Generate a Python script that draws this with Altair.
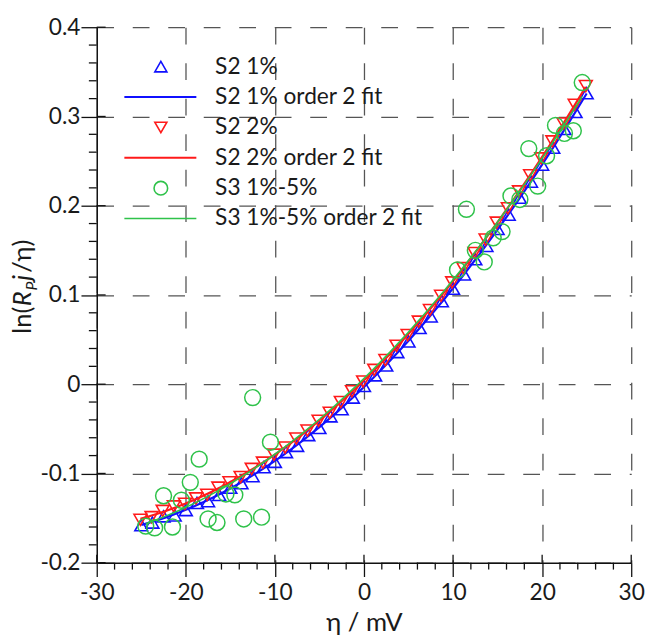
import altair as alt
import pandas as pd

# ---- data ----
s2_1_x = [-25, -23.75, -22.5, -21.25, -20, -18.75, -17.5, -16.25, -15, -13.75, -12.5, -11.25, -10,
          -8.75, -7.5, -6.25, -5, -3.75, -2.5, -1.25, 0, 1.25, 2.5, 3.75, 5, 6.25, 7.5, 8.75, 10,
          11.25, 12.5, 13.75, 15, 16.25, 17.5, 18.75, 20, 21.25, 22.5, 23.75, 25]
s2_1_y = [-0.158, -0.155, -0.148, -0.147, -0.141, -0.133, -0.131, -0.124, -0.116, -0.111, -0.103,
          -0.093, -0.087, -0.076, -0.069, -0.057, -0.049, -0.036, -0.028, -0.015, -0.002, 0.010,
          0.021, 0.036, 0.048, 0.063, 0.076, 0.093, 0.107, 0.123, 0.140, 0.155, 0.174, 0.190,
          0.209, 0.227, 0.246, 0.265, 0.286, 0.305, 0.326]

s2_2_x = [-25.1, -23.85, -22.6, -21.35, -20.1, -18.85, -17.6, -16.35, -15.1, -13.85, -12.6, -11.35,
          -10.1, -8.85, -7.6, -6.35, -5.1, -3.85, -2.6, -1.35, -0.1, 1.15, 2.4, 3.65, 4.9, 6.15,
          7.4, 8.65, 9.9, 11.15, 12.4, 13.65, 14.9, 16.15, 17.4, 18.65, 19.9, 21.15, 22.4, 23.65, 24.9]
s2_2_y = [-0.152, -0.149, -0.142, -0.137, -0.134, -0.128, -0.124, -0.116, -0.110, -0.104, -0.095,
          -0.088, -0.079, -0.071, -0.061, -0.052, -0.041, -0.032, -0.020, -0.008, 0.003, 0.016,
          0.027, 0.043, 0.055, 0.070, 0.083, 0.099, 0.114, 0.130, 0.147, 0.162, 0.181, 0.197,
          0.216, 0.234, 0.253, 0.272, 0.292, 0.313, 0.334]

s3_x = [-24.5, -23.5, -22.5, -21.5, -20.5, -19.5, -18.5, -17.5, -16.5, -15.5, -14.5, -13.5, -12.5,
        -11.5, -10.5, 10.5, 11.5, 12.5, 13.5, 14.5, 15.5, 16.5, 17.5, 18.5, 19.5, 20.5, 21.5, 22.5,
        23.5, 24.5]
s3_y = [-0.159, -0.161, -0.125, -0.160, -0.130, -0.110, -0.084, -0.151, -0.155, -0.123, -0.124,
        -0.151, -0.015, -0.149, -0.065, 0.128, 0.196, 0.150, 0.137, 0.164, 0.171, 0.211, 0.207,
        0.264, 0.222, 0.256, 0.290, 0.281, 0.284, 0.338]

x_major = [-30, -20, -10, 0, 10, 20, 30]
x_minor = [-28, -26, -24, -22, -18, -16, -14, -12, -8, -6, -4, -2, 2, 4, 6, 8, 12, 14, 16, 18, 22, 24, 26, 28]
y_major = [-0.2, -0.1, 0, 0.1, 0.2, 0.3, 0.4]
y_minor = [-0.18, -0.16, -0.14, -0.12, -0.08, -0.06, -0.04, -0.02, 0.02, 0.04, 0.06, 0.08,
           0.12, 0.14, 0.16, 0.18, 0.22, 0.24, 0.26, 0.28, 0.32, 0.34, 0.36, 0.38]

legend_labels = ["S2 1%", "S2 1% order 2 fit", "S2 2%", "S2 2% order 2 fit",
                 "S3 1%-5%", "S3 1%-5% order 2 fit"]

BLUE = "#1010ff"
RED = "#ff1a1a"
GREEN = "#2fc24a"
FONT = "Lato"
W, H = 542, 543

df1 = pd.DataFrame({"x": s2_1_x, "y": s2_1_y})
df2 = pd.DataFrame({"x": s2_2_x, "y": s2_2_y})
df3 = pd.DataFrame({"x": s3_x, "y": s3_y})

xs = alt.Scale(domain=[-30, 30], nice=False)
ys = alt.Scale(domain=[-0.2, 0.4], nice=False)

X = alt.X("x:Q", scale=xs, axis=alt.Axis(
    values=x_major, title="η / mV", grid=True, tickSize=14, labelPadding=5,
    titlePadding=6, labelFlush=False, labelExpr="replace(format(datum.value, 'd'), '−', '-')"))
Y = alt.Y("y:Q", scale=ys, axis=alt.Axis(
    values=y_major, title=None, grid=True, tickSize=16, labelPadding=1,
    labelExpr="replace(format(datum.value, '.1~f'), '−', '-')"))

TRI = 170
pts_blue = alt.Chart(df1).mark_point(shape="triangle-up", filled=False, color=BLUE,
                                     size=TRI, strokeWidth=1.6, opacity=1).encode(x=X, y=Y)
pts_red = alt.Chart(df2).mark_point(shape="triangle-down", filled=False, color=RED,
                                    size=TRI, strokeWidth=1.6, opacity=1).encode(x=X, y=Y)
pts_green = alt.Chart(df3).mark_point(shape="circle", filled=False, color=GREEN,
                                      size=260, strokeWidth=1.5, opacity=1).encode(x=X, y=Y)

def fit(df, color, width):
    return alt.Chart(df).transform_regression("x", "y", method="poly", order=2).mark_line(
        color=color, strokeWidth=width).encode(x=alt.X("x:Q", scale=xs), y=alt.Y("y:Q", scale=ys))

fit_blue = fit(df1, BLUE, 2.2)
fit_red = fit(df2, RED, 2.2)
fit_green = fit(df3, GREEN, 1.6)

# minor ticks and inner parts of major ticks
xmin_df = pd.DataFrame({"x": x_minor})
ymin_df = pd.DataFrame({"y": y_minor})
xmaj_df = pd.DataFrame({"x": x_major})
ymaj_df = pd.DataFrame({"y": y_major})
tick_x_minor = alt.Chart(xmin_df).mark_rule(color="#111", strokeWidth=1.3).encode(
    x=alt.X("x:Q", scale=xs), y=alt.value(H), y2=alt.value(H + 7))
tick_y_minor = alt.Chart(ymin_df).mark_rule(color="#111", strokeWidth=1.3).encode(
    y=alt.Y("y:Q", scale=ys), x=alt.value(-8), x2=alt.value(0))
tick_x_in = alt.Chart(xmaj_df).mark_rule(color="#111", strokeWidth=1.3).encode(
    x=alt.X("x:Q", scale=xs), y=alt.value(H - 8), y2=alt.value(H))
tick_y_in = alt.Chart(ymaj_df).mark_rule(color="#111", strokeWidth=1.3).encode(
    y=alt.Y("y:Q", scale=ys), x=alt.value(0), x2=alt.value(9))

# legend
leg_layers = []
one = pd.DataFrame({"a": [0]})
row0, dy = 40, 30.8
sym_x, l0, l1, tx = 65, 28, 101, 120
kinds = [("triangle-up", BLUE), ("line", BLUE), ("triangle-down", RED), ("line", RED),
         ("circle", GREEN), ("line", GREEN)]
for i, (lab, (kind, col)) in enumerate(zip(legend_labels, kinds)):
    yy = row0 + dy * i
    if kind == "line":
        leg_layers.append(alt.Chart(one).mark_rule(color=col, strokeWidth=2.2 if col != GREEN else 1.6).encode(
            x=alt.value(l0), x2=alt.value(l1), y=alt.value(yy)))
    else:
        leg_layers.append(alt.Chart(one).mark_point(shape=kind, filled=False, color=col, opacity=1,
                                                   size=150 if kind != "circle" else 190,
                                                   strokeWidth=1.6).encode(
            x=alt.value(sym_x), y=alt.value(yy)))
    leg_layers.append(alt.Chart(pd.DataFrame({"t": [lab]})).mark_text(
        align="left", baseline="middle", font=FONT, fontSize=23, color="#1a1a1a").encode(
        x=alt.value(tx), y=alt.value(yy), text="t:N"))

# y-axis title built from pieces (rotated)
ty_x = -67
ty_c = H / 2 - 8
pieces = [("ln(", "normal", 26, 0), ("R", "italic", 26, 0), ("P", "italic", 16, 6),
          ("j", "italic", 26, 0), ("/η)", "normal", 26, 0)]
widths = [28, 16, 10, 8, 33]
total = sum(widths)
start = ty_c + total / 2
title_layers = []
pos = start
for (txt, style, fs, sub), w in zip(pieces, widths):
    title_layers.append(alt.Chart(pd.DataFrame({"t": [txt]})).mark_text(
        align="left", baseline="alphabetic", angle=270, font=FONT, fontSize=fs,
        fontStyle=style, color="#1a1a1a").encode(
        x=alt.value(ty_x + sub), y=alt.value(pos), text="t:N"))
    pos -= w

chart = alt.layer(
    pts_blue, fit_blue, pts_red, fit_red, pts_green, fit_green,
    tick_x_minor, tick_y_minor, tick_x_in, tick_y_in,
    *leg_layers, *title_layers
).properties(
    width=W, height=H,
    autosize=alt.AutoSizeParams(type="none"),
    padding={"left": 90, "top": 15, "right": 16, "bottom": 80},
).configure_view(stroke=None).configure_axis(
    domainColor="#111", domainWidth=1.5, tickColor="#111", tickWidth=1.3,
    gridColor="#555", gridDash=[17, 19], gridWidth=1.3,
    labelFont=FONT, labelFontSize=23, labelColor="#1a1a1a",
    titleFont=FONT, titleFontSize=26, titleFontWeight="normal", titleColor="#1a1a1a",
)

chart.save("out.html", embed_options={"renderer": "svg", "actions": False})
